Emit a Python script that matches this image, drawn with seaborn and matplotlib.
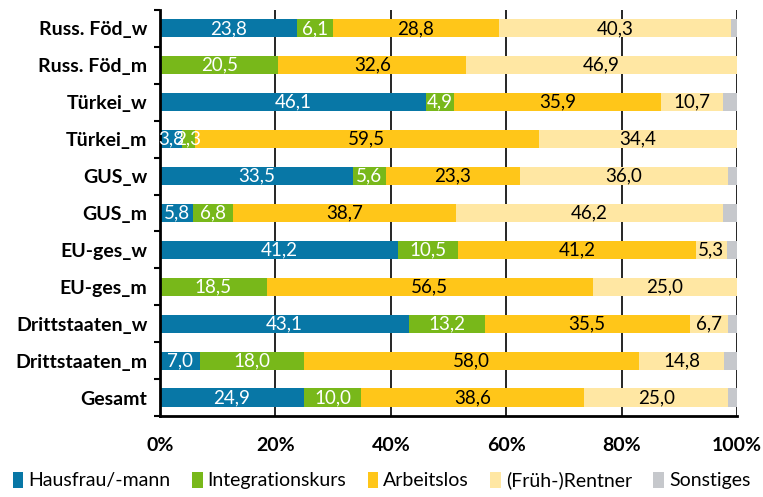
import matplotlib
matplotlib.use("Agg")
import matplotlib.pyplot as plt
import seaborn as sns
import numpy as np
import pandas as pd
from matplotlib.patches import Patch

categories = ["Russ. Föd_w", "Russ. Föd_m", "Türkei_w", "Türkei_m", "GUS_w", "GUS_m",
              "EU-ges_w", "EU-ges_m", "Drittstaaten_w", "Drittstaaten_m", "Gesamt"]
hausfrau = [23.8, 0.0, 46.1, 3.8, 33.5, 5.8, 41.2, 0.0, 43.1, 7.0, 24.9]
integration = [6.1, 20.5, 4.9, 2.3, 5.6, 6.8, 10.5, 18.5, 13.2, 18.0, 10.0]
arbeitslos = [28.8, 32.6, 35.9, 59.5, 23.3, 38.7, 41.2, 56.5, 35.5, 58.0, 38.6]
rentner = [40.3, 46.9, 10.7, 34.4, 36.0, 46.2, 5.3, 25.0, 6.7, 14.8, 25.0]
sonstiges = [1.0, 0.0, 2.4, 0.0, 1.6, 2.5, 1.8, 0.0, 1.5, 2.2, 1.5]
series_names = ["Hausfrau/-mann", "Integrationskurs", "Arbeitslos", "(Früh-)Rentner", "Sonstiges"]
x_ticks = [0, 20, 40, 60, 80, 100]
x_ticklabels = ["0%", "20%", "40%", "60%", "80%", "100%"]

colors = ["#0877a6", "#78b81a", "#ffc619", "#ffe7a3", "#c6c8cc"]
text_colors = ["white", "white", "black", "black", None]

sns.set_theme(style="white")
plt.rcParams["font.family"] = ["Lato", "DejaVu Sans"]
plt.rcParams["text.color"] = "black"
plt.rcParams["xtick.color"] = "black"
plt.rcParams["ytick.color"] = "black"

FS = 13.5

series = [hausfrau, integration, arbeitslos, rentner, sonstiges]
df = pd.DataFrame({n: s for n, s in zip(series_names, series)})
df["Kategorie"] = categories
cum = df[series_names].cumsum(axis=1)

fig = plt.figure(figsize=(7.63, 4.97), dpi=100)
ax = fig.add_axes([0.2097, 0.163, 0.7562, 0.817])

for i in range(len(series_names) - 1, -1, -1):
    d = pd.DataFrame({"Kategorie": categories, "cum": cum[series_names[i]].values})
    sns.barplot(data=d, x="cum", y="Kategorie", orient="h", color=colors[i],
                saturation=1, width=0.49, ax=ax, linewidth=0, zorder=2)

for i, name in enumerate(series_names):
    if text_colors[i] is None:
        continue
    for j, cat in enumerate(categories):
        v = df[name].iloc[j]
        if v <= 0:
            continue
        xc = cum[name].iloc[j] - v / 2
        ax.text(xc, j, f"{v:.1f}".replace(".", ","), ha="center", va="center",
                color=text_colors[i], fontsize=FS, zorder=5)

ax.set_xlim(0, 100)
ax.set_ylim(len(categories) - 0.5, -0.5)
ax.set_xticks(x_ticks)
ax.set_xticklabels(x_ticklabels, fontweight="bold", fontsize=14)
ax.set_yticks(range(len(categories)))
ax.set_yticklabels(categories, fontweight="bold", fontsize=14)
ax.tick_params(axis="y", length=0, pad=9)
ax.tick_params(axis="x", length=5, width=1.5, color="black", direction="out", pad=10)
ax.set_yticks(np.arange(-0.5, len(categories), 1), minor=True)
ax.tick_params(axis="y", which="minor", length=4, width=1.5, color="black", direction="out", left=True)
ax.set_xlabel("")
ax.set_ylabel("")
for x in x_ticks[1:]:
    ax.axvline(x, color="black", linewidth=1.2, zorder=1)
ax.spines["top"].set_visible(False)
ax.spines["right"].set_visible(False)
for s in ["left", "bottom"]:
    ax.spines[s].set_color("black")
    ax.spines[s].set_linewidth(2)

handles = [Patch(facecolor=c, edgecolor="none") for c in colors]
fig.legend(handles, series_names, loc="lower center", bbox_to_anchor=(0.5, -0.02), ncol=5,
           frameon=False, fontsize=14, handlelength=0.55, handleheight=0.9,
           handletextpad=0.25, columnspacing=1.1)

fig.savefig("out.png", dpi=100)
